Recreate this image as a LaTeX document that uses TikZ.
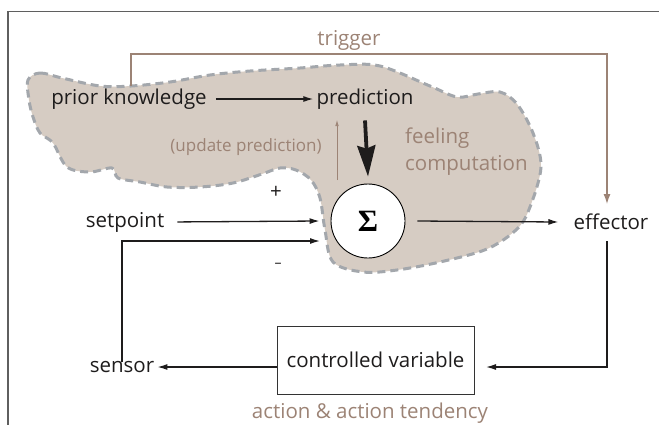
\documentclass[tikz,border=0pt]{standalone}
\usepackage{fontspec}
\setmainfont{Open Sans}
\newfontfamily\sigfont{Liberation Serif}
\usetikzlibrary{arrows.meta}
\definecolor{blobfill}{RGB}{214,204,195}
\definecolor{blobedge}{RGB}{163,167,172}
\definecolor{brn}{RGB}{156,131,117}
\definecolor{frm}{RGB}{95,95,95}
\definecolor{ink}{RGB}{30,28,28}
\tikzset{
  txt/.style={font=\fontsize{20.5}{24}\selectfont, text=ink, inner sep=3pt},
  btxt/.style={font=\fontsize{20.5}{27}\selectfont, text=brn, inner sep=2pt},
  arr/.style={line width=1.3pt, draw=ink, -{Latex[length=10pt,width=6pt]}},
  barr/.style={line width=1.2pt, draw=brn, -{Latex[length=10pt,width=7pt]}},
}
\begin{document}
\begin{tikzpicture}[x=1pt,y=-1pt]
\useasboundingbox (0,0) rectangle (659,424);
% frame
\draw[frm, line width=1.3pt] (8,430) -- (8,11.5) -- (665,11.5);
% blob
\filldraw[fill=blobfill, draw=blobedge, line width=3pt, dash pattern=on 8pt off 5pt]
  plot[smooth cycle, tension=0.55] coordinates {
  (28,80) (40,73) (62,78) (100,86) (131,86) (170,82) (210,75) (250,71) (300,68)
  (340,65) (380,66) (430,86) (457,97) (478,94) (500,92) (517,104) (533,133)
  (541,167) (530,207) (517,229) (487,249) (440,262) (397,270) (363,272) (333,262)
  (325,230) (320,198) (311,180) (296,170) (280,168) (262,174) (233,183) (200,187)
  (167,187) (140,182) (118,178) (112,168) (90,172) (67,167) (53,143) (40,133)
  (33,117) (29,100)};
% nodes
\node[txt] (pk) at (129,99) {prior knowledge};
\node[txt] (pred) at (365,99) {prediction};
\node[circle, draw=black, fill=white, line width=0.9pt, minimum size=74pt, inner sep=0pt] (sig) at (368,221) {\sigfont\bfseries\fontsize{31}{31}\selectfont Σ};
\node[txt] (sp) at (125,222) {setpoint};
\node[txt] (sen) at (122,367) {sensor};
\node[txt] (eff) at (611,222) {effector};
\node[txt, draw=black!80, line width=0.9pt, minimum width=197pt, minimum height=68pt, inner sep=0pt] (cv) at (375.5,360) {controlled variable};
% labels
\node[btxt] (trig) at (349,40) {trigger};
\node[btxt, font=\fontsize{17}{20}\selectfont] (upd) at (246,147) {(update prediction)};
\node[btxt, anchor=west, align=left] (feel) at (403,152) {feeling\\computation};
\node[txt] (plus) at (276,192) {+};
\node[txt] (minus) at (278,265) {\fontsize{14}{14}\selectfont –};
\node[btxt] (act) at (370,413) {action \& action tendency};
% coordinates
\coordinate (u1) at (337,180);
\coordinate (u2) at (337,120);
\coordinate (fb) at (320,241);
\coordinate (tr0) at (131,86);
\coordinate (tr1) at (607,54);
\coordinate (tr2) at (607,204);
\coordinate (ev) at (486,367);
% connectors
\draw[arr, shorten <=6pt] (pk.east) -- (pred.west);
\draw[line width=3.8pt, draw=ink, -{Stealth[length=31pt,width=18pt,inset=3pt]}] ([yshift=-8pt]pred.south) -- ([yshift=7pt]sig.north);
\draw[line width=0.7pt, draw=brn, -{Latex[length=6pt,width=3.5pt]}] (u1) -- (u2);
\draw[arr, shorten <=10pt] (sp.east) -- ([xshift=-11pt]sig.west);
\draw[arr] ([yshift=-4pt]sen.north) |- (fb);
\draw[arr] ([xshift=12pt]sig.east) -- ([xshift=-12pt]eff.west);
\draw[arr] ([yshift=-8pt]eff.south -| tr2) |- (ev);
\draw[arr] ([yshift=-7pt]cv.west) -- (sen.east |- ev);
\draw[barr] (tr0) |- (tr1) -- (tr2);
\end{tikzpicture}
\end{document}
